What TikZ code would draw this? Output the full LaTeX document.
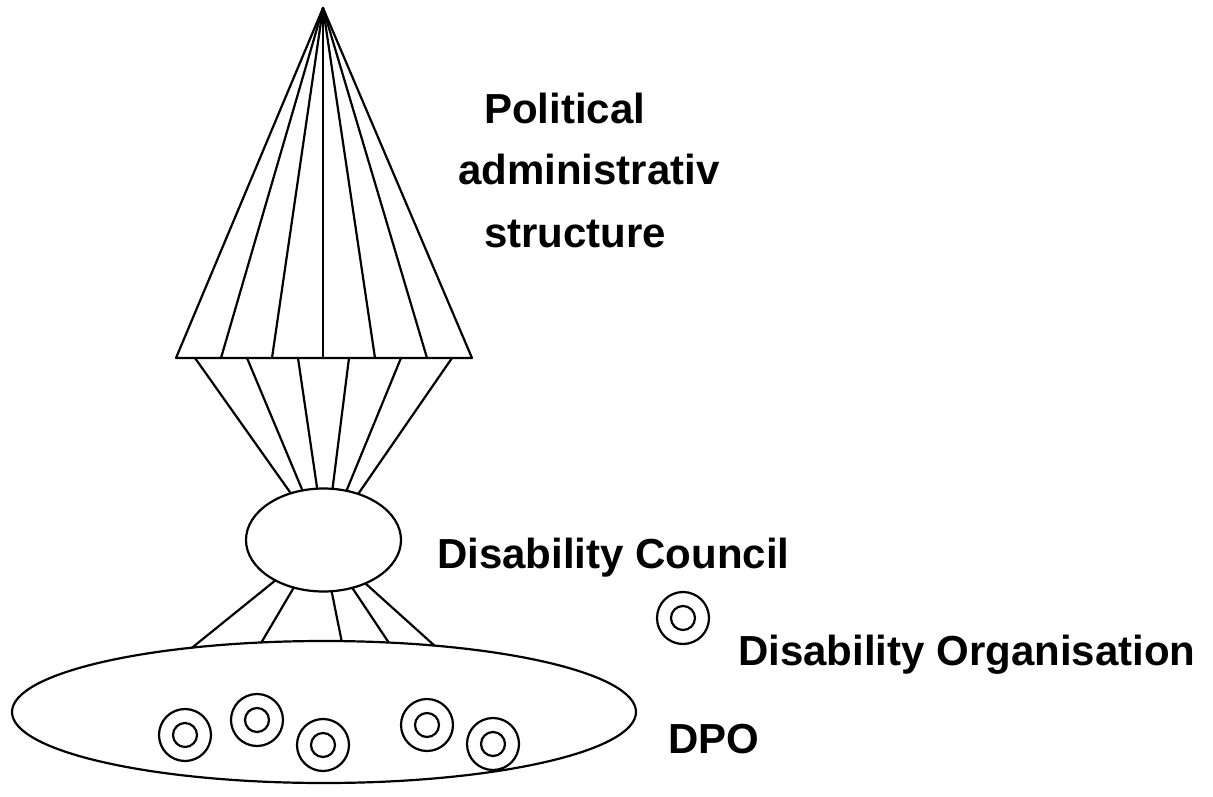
\documentclass[tikz,border=0pt]{standalone}
\usepackage{fontspec}
\setmainfont{Liberation Sans}
\usetikzlibrary{shapes.geometric}
\tikzset{
  ln/.style={line width=2.2pt, line cap=round, line join=round},
  ovalbox/.style={ellipse, draw, line width=2.2pt, inner sep=0pt, outer sep=0pt},
  orgmark/.style={circle, draw, line width=2.2pt, minimum size=52pt, inner sep=0pt, outer sep=0pt,
    path picture={\draw[line width=2.2pt] (path picture bounding box.center) circle (12pt);}},
  lbl/.style={font=\fontsize{42}{50}\selectfont\bfseries, inner sep=0pt, anchor=base west}
}
\begin{document}
\begin{tikzpicture}[x=1pt,y=-1pt]
\useasboundingbox (0,0) rectangle (1213,797);
% cone
\coordinate (apex) at (323,8);
\coordinate (b0) at (176,358);
\coordinate (b1) at (221,358);
\coordinate (b2) at (272,358);
\coordinate (b3) at (323,358);
\coordinate (b4) at (375,358);
\coordinate (b5) at (427,358);
\coordinate (b6) at (472,358);
\draw[ln] (apex) -- (b0) -- (b6) -- cycle;
\foreach \i in {1,...,5} \draw[ln] (apex) -- (b\i);
% base start points
\coordinate (s1) at (195,358);
\coordinate (s2) at (247,358);
\coordinate (s3) at (298,358);
\coordinate (s4) at (349,358);
\coordinate (s5) at (401,358);
\coordinate (s6) at (452,358);
% council
\node[ovalbox, minimum width=155pt, minimum height=103pt] (council) at (323.5,540) {};
\draw[ln] (s1) -- (council.125.5);
\draw[ln] (s2) -- (council.113.3);
\draw[ln] (s3) -- (council.97);
\draw[ln] (s4) -- (council.80.7);
\draw[ln] (s5) -- (council.65.8);
\draw[ln] (s6) -- (council.53.7);
% DPO ellipse
\node[ovalbox, minimum width=624pt, minimum height=142pt] (dpo) at (324,712) {};
\draw[ln] (council.220.3) -- (dpo.154.3);
\draw[ln] (council.238.4) -- (dpo.132.4);
\draw[ln] (council.279.3) -- (dpo.76.2);
\draw[ln] (council.301.6) -- (dpo.47.6);
\draw[ln] (council.314.7) -- (dpo.31.5);
% organisations
\node[orgmark] (o1) at (185,735) {};
\node[orgmark] (o2) at (257,720) {};
\node[orgmark] (o3) at (323,745) {};
\node[orgmark] (o4) at (427,725) {};
\node[orgmark] (o5) at (493,744) {};
\node[orgmark] (o6) at (683,618) {};
% labels
\node[lbl] (t1) at (484,124) {Political};
\node[lbl] (t2) at (458,184) {administrativ};
\node[lbl] (t3) at (484,247) {structure};
\node[lbl] (t4) at (437,568) {Disability Council};
\node[lbl] (t5) at (738,665) {Disability Organisation};
\node[lbl] (t6) at (668,753) {DPO};
\end{tikzpicture}
\end{document}
